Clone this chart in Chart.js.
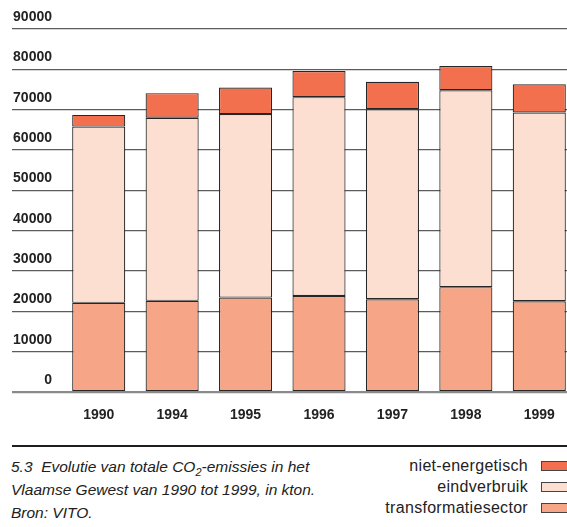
<!DOCTYPE html>
<html>
<head>
<meta charset="utf-8">
<script src="https://cdn.jsdelivr.net/npm/chart.js@4.4.1/dist/chart.umd.min.js"></script>
<style>
  body { margin: 0; background: #fff; }
  #wrap { position: relative; width: 567px; height: 527px; overflow: hidden; }
  #chart { position: absolute; left: 0; top: 0; }
  #rule { position: absolute; left: 12px; top: 445px; width: 560px; height: 2px; background: #1e1e1e; }
  #caption { position: absolute; left: 11px; top: 455px; font: italic 15.5px 'Liberation Sans', Arial, sans-serif; line-height: 23px; color: #222; white-space: nowrap; }
  #caption sub { font-size: 11px; line-height: 0; vertical-align: baseline; position: relative; top: 4px; }
  #legend { position: absolute; left: 300px; top: 455px; width: 271px; font: 16px 'Liberation Sans', Arial, sans-serif; letter-spacing: 0.3px; color: #222; }
  .row { display: flex; justify-content: flex-end; align-items: center; height: 21.3px; }
  .box { width: 28px; height: 8px; margin-left: 13px; border: 1px solid #444; }
</style>
</head>
<body>
<div id="wrap">
  <canvas id="chart" width="580" height="432"></canvas>
  <div id="rule"></div>
  <div id="caption">5.3&nbsp; Evolutie van totale CO<sub>2</sub>-emissies in het<br>Vlaamse Gewest van 1990 tot 1999, in kton.<br>Bron: VITO.</div>
  <div id="legend"></div>
</div>
<script>
let years = ['1990', '1994', '1995', '1996', '1997', '1998', '1999'];
let transformatie = [22100, 22600, 23400, 23800, 23000, 26000, 22500];
let eindverbruik = [43700, 45400, 45500, 49300, 47100, 48800, 46800];
let nietEnergetisch = [2900, 6100, 6600, 6500, 6800, 6000, 7000];
let seriesNames = ['transformatiesector', 'eindverbruik', 'niet-energetisch'];
let seriesColors = ['#F6A586', '#FDDFD1', '#F2704E'];
let yMax = 90000;
let yStep = 10000;

let tickFont = { family: "'Liberation Sans', Arial, sans-serif", size: 14, weight: 'bold' };

const ctx = document.getElementById('chart');
const chart = new Chart(ctx, {
    type: 'bar',
    data: {
        labels: years,
        datasets: [transformatie, eindverbruik, nietEnergetisch].map((values, i) => ({
            label: seriesNames[i],
            data: values,
            backgroundColor: seriesColors[i],
            borderColor: '#262626',
            borderWidth: 1.2,
            borderSkipped: false,
            categoryPercentage: 1,
            barPercentage: 0.723
        }))
    },
    options: {
        responsive: false,
        animation: false,
        layout: { padding: { left: 12, right: 4, top: 29, bottom: 0 } },
        plugins: {
            legend: { display: false },
            tooltip: { enabled: false }
        },
        scales: {
            x: {
                stacked: true,
                grid: { display: false },
                border: { display: false },
                ticks: { font: tickFont, color: '#222', padding: 7 },
                afterFit: (scale) => { scale.height = 40; }
            },
            y: {
                stacked: true,
                min: 0,
                max: yMax,
                border: { display: false },
                grid: {
                    color: (c) => c.tick && c.tick.value === 0 ? '#8a8a8a' : '#5c5c5c',
                    lineWidth: (c) => c.tick && c.tick.value === 0 ? 2.2 : 1.2,
                    tickLength: 50
                },
                ticks: {
                    stepSize: yStep,
                    font: tickFont,
                    color: '#222',
                    padding: -40,
                    labelOffset: -12,
                    callback: (v) => String(v)
                },
                afterFit: (scale) => { scale.width = 50; }
            }
        }
    }
});

// legend, top of the stack first
let legendEl = document.getElementById('legend');
for (let i = seriesNames.length - 1; i >= 0; i--) {
    let row = document.createElement('div');
    row.className = 'row';
    row.innerHTML = '<span>' + seriesNames[i] + '</span><span class="box" style="background:' + seriesColors[i] + '"></span>';
    legendEl.appendChild(row);
}
</script>
</body>
</html>
